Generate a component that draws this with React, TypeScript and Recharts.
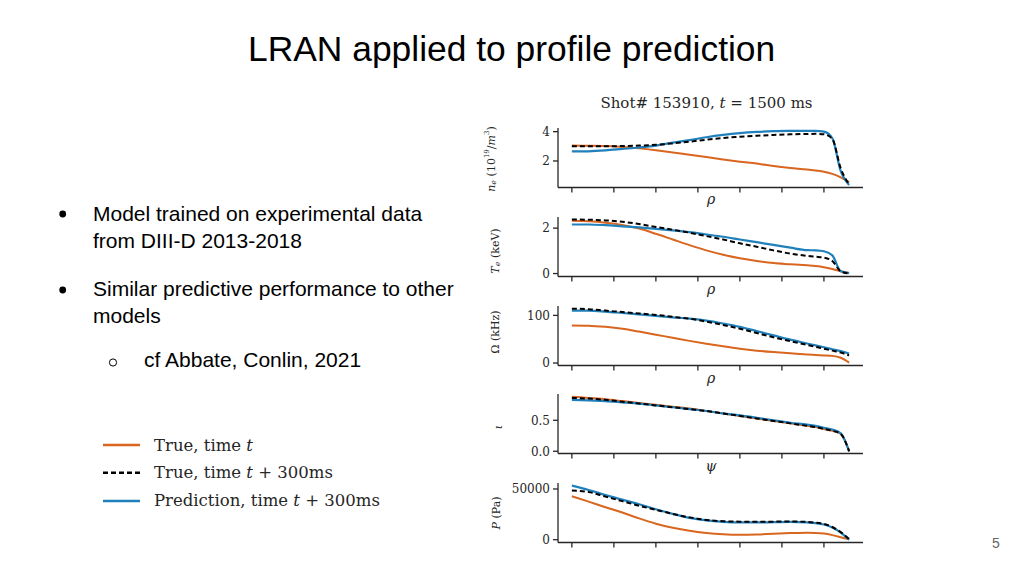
import React from "react";
import { LineChart, Line, XAxis, YAxis } from "recharts";

// shared abscissa (profile grid index)
const X = [0, 2, 4, 6, 8, 10, 12, 14, 16, 18, 20, 22, 24, 26, 28, 29, 30, 31, 32, 33];
const X_TICKS = [0, 5, 10, 15, 20, 25, 30];

// n_e (10^19/m^3)
const neTrue = [3.05, 3.04, 3.02, 2.96, 2.86, 2.73, 2.58, 2.42, 2.27, 2.1, 1.95, 1.82, 1.65, 1.52, 1.42, 1.35, 1.27, 1.12, 0.88, 0.55];
const neNext = [3.0, 3.0, 3.0, 3.02, 3.05, 3.1, 3.2, 3.32, 3.45, 3.57, 3.65, 3.72, 3.78, 3.82, 3.84, 3.85, 3.82, 3.5, 1.5, 0.4];
const nePred = [2.65, 2.66, 2.72, 2.82, 2.92, 3.05, 3.25, 3.42, 3.62, 3.78, 3.9, 3.98, 4.03, 4.05, 4.06, 4.06, 4.0, 3.55, 1.3, 0.36];

// T_e (keV)
const teTrue = [2.32, 2.3, 2.24, 2.14, 1.98, 1.75, 1.5, 1.25, 1.02, 0.83, 0.67, 0.55, 0.46, 0.41, 0.36, 0.33, 0.28, 0.2, 0.1, 0.03];
const teNext = [2.38, 2.37, 2.34, 2.28, 2.18, 2.05, 1.93, 1.8, 1.65, 1.5, 1.33, 1.18, 1.02, 0.88, 0.78, 0.74, 0.7, 0.55, 0.1, 0.0];
const tePred = [2.16, 2.16, 2.13, 2.08, 2.03, 1.97, 1.9, 1.82, 1.72, 1.62, 1.5, 1.38, 1.26, 1.14, 1.03, 1.02, 0.98, 0.8, 0.1, 0.02];

// Omega (kHz)
const omTrue = [79, 78.5, 76, 72, 66, 59.5, 53, 46.5, 40.5, 35, 30, 26, 23, 20.5, 18, 17, 16, 15, 11, 1];
const omNext = [114, 113, 110, 107, 104, 101, 97, 93, 87, 80, 72, 63, 54, 46, 38, 34, 30, 26, 22, 16];
const omPred = [110, 110, 108, 105, 102, 99, 96, 93, 89, 83, 76, 67, 58, 49, 41, 37, 33, 29, 25, 20];

// iota
const ioTrue = [0.88, 0.86, 0.84, 0.81, 0.78, 0.75, 0.72, 0.69, 0.65, 0.61, 0.57, 0.53, 0.49, 0.45, 0.41, 0.39, 0.36, 0.33, 0.28, 0.0];
const ioNext = [0.86, 0.85, 0.83, 0.8, 0.77, 0.74, 0.71, 0.68, 0.65, 0.61, 0.57, 0.53, 0.49, 0.45, 0.41, 0.39, 0.36, 0.33, 0.28, 0.0];
const ioPred = [0.83, 0.82, 0.81, 0.79, 0.77, 0.74, 0.71, 0.68, 0.65, 0.61, 0.58, 0.54, 0.5, 0.46, 0.43, 0.41, 0.38, 0.35, 0.29, 0.0];

// P (Pa)
const pTrue = [42800, 37500, 32000, 26800, 21000, 15800, 11800, 8800, 6700, 5400, 4900, 5200, 5900, 6500, 6900, 6700, 6000, 4500, 2500, 300];
const pNext = [48400, 47000, 42500, 38000, 33500, 29500, 25500, 22000, 19500, 18200, 17800, 17700, 17800, 18000, 17500, 16800, 15500, 12500, 7500, 700];
const pPred = [53300, 49000, 44000, 39500, 35000, 30000, 25500, 21500, 19000, 17600, 17000, 17000, 17300, 17600, 17000, 16400, 15000, 12000, 7000, 0];

const ORANGE = "#d9661f";
const BLUE = "#2080bb";
const INK = "#262626";
const SERIF = "'DejaVu Serif', serif";
const SANS = "'Liberation Sans', Arial, sans-serif";

type PanelProps = {
  top: number;
  a: number[];
  b: number[];
  c: number[];
  domain: [number, number];
  ticks: number[];
  fmt?: (v: number) => string;
};

const PLOT_H = 59.5;

function Panel({ top, a, b, c, domain, ticks, fmt }: PanelProps) {
  const rows = X.map((x, i) => ({ x, a: a[i], b: b[i], c: c[i] }));
  return (
    <div style={{ position: "absolute", left: 483, top: top - 5 }}>
      <LineChart
        width={390}
        height={5 + PLOT_H + 20}
        data={rows}
        margin={{ top: 5, right: 10, bottom: 0, left: 0 }}
      >
        <XAxis
          dataKey="x"
          type="number"
          domain={[-1.65, 34.65]}
          ticks={X_TICKS}
          tickFormatter={() => ""}
          tickSize={5}
          height={20}
          allowDataOverflow
          axisLine={{ stroke: INK, strokeWidth: 1.3 }}
          tickLine={{ stroke: INK, strokeWidth: 1.3 }}
        />
        <YAxis
          type="number"
          domain={domain}
          ticks={ticks}
          allowDataOverflow
          width={75}
          tickSize={5}
          tickMargin={3}
          tickFormatter={fmt}
          tick={{ fontSize: 12, fontFamily: SERIF, fill: INK }}
          axisLine={{ stroke: INK, strokeWidth: 1.3 }}
          tickLine={{ stroke: INK, strokeWidth: 1.3 }}
        />
        <Line type="monotone" dataKey="a" stroke={ORANGE} strokeWidth={2} dot={false} isAnimationActive={false} />
        <Line type="monotone" dataKey="c" stroke={BLUE} strokeWidth={2.2} dot={false} isAnimationActive={false} />
        <Line type="monotone" dataKey="b" stroke="#000" strokeWidth={2} strokeDasharray="5 3" dot={false} isAnimationActive={false} />
      </LineChart>
    </div>
  );
}

function VLabel({ x, y, children }: { x: number; y: number; children: React.ReactNode }) {
  return (
    <text
      transform={`translate(${x},${y}) rotate(-90)`}
      textAnchor="middle"
      dominantBaseline="central"
      fontFamily={SERIF}
      fontSize={11}
      fill={INK}
    >
      {children}
    </text>
  );
}

export default function App() {
  return (
    <div style={{ position: "absolute", left: 0, top: 0, width: 1024, height: 576, background: "#fff", overflow: "hidden" }}>
      <svg width={1024} height={576} style={{ position: "absolute", left: 0, top: 0 }}>
        <text x={248} y={61} fontFamily={SANS} fontSize={35.4} fill="#000">
          LRAN applied to profile prediction
        </text>

        <circle cx={62.7} cy={214} r={3.4} fill="#000" />
        <text x={93} y={220.7} fontFamily={SANS} fontSize={21} fill="#000">Model trained on experimental data</text>
        <text x={93} y={248.3} fontFamily={SANS} fontSize={21} fill="#000">from DIII-D 2013-2018</text>
        <circle cx={62.7} cy={290} r={3.4} fill="#000" />
        <text x={93} y={296} fontFamily={SANS} fontSize={21} fill="#000">Similar predictive performance to other</text>
        <text x={93} y={323.3} fontFamily={SANS} fontSize={21} fill="#000">models</text>
        <circle cx={113} cy={362.5} r={3.6} fill="none" stroke="#000" strokeWidth={1} />
        <text x={144} y={366.7} fontFamily={SANS} fontSize={21} fill="#000">cf Abbate, Conlin, 2021</text>

        <line x1={103} x2={140} y1={445} y2={445} stroke={ORANGE} strokeWidth={2.5} />
        <line x1={103} x2={140} y1={472.7} y2={472.7} stroke="#000" strokeWidth={2.5} strokeDasharray="5 3" />
        <line x1={103} x2={140} y1={501} y2={501} stroke={BLUE} strokeWidth={2.5} />
        <text x={154} y={451} fontFamily={SERIF} fontSize={16.5} fill={INK}>
          True, time <tspan fontStyle="italic">t</tspan>
        </text>
        <text x={154} y={478.3} fontFamily={SERIF} fontSize={16.5} fill={INK}>
          True, time <tspan fontStyle="italic">t</tspan> + 300ms
        </text>
        <text x={154} y={506} fontFamily={SERIF} fontSize={16.5} fill={INK}>
          Prediction, time <tspan fontStyle="italic">t</tspan> + 300ms
        </text>

        <text x={706.5} y={107.7} textAnchor="middle" fontFamily={SERIF} fontSize={15} fill={INK}>
          Shot# 153910, <tspan fontStyle="italic">t</tspan> = 1500 ms
        </text>

        <VLabel x={491} y={159}>
          <tspan fontStyle="italic">n</tspan>
          <tspan fontSize={8} fontStyle="italic" dy={2}>e</tspan>
          <tspan dy={-2}> (10</tspan>
          <tspan fontSize={7} dy={-4}>19</tspan>
          <tspan dy={4}>/</tspan>
          <tspan fontStyle="italic">m</tspan>
          <tspan fontSize={7} dy={-4}>3</tspan>
          <tspan dy={4}>)</tspan>
        </VLabel>
        <VLabel x={495} y={251}>
          <tspan fontStyle="italic">T</tspan>
          <tspan fontSize={8} fontStyle="italic" dy={2}>e</tspan>
          <tspan dy={-2}> (keV)</tspan>
        </VLabel>
        <VLabel x={495} y={332}>Ω (kHz)</VLabel>
        <VLabel x={498} y={427}>
          <tspan fontStyle="italic">ι</tspan>
        </VLabel>
        <VLabel x={496} y={513}>
          <tspan fontStyle="italic">P</tspan> (Pa)
        </VLabel>

        <text x={711} y={204} textAnchor="middle" fontFamily={SERIF} fontStyle="italic" fontSize={14} fill={INK}>ρ</text>
        <text x={711} y={294} textAnchor="middle" fontFamily={SERIF} fontStyle="italic" fontSize={14} fill={INK}>ρ</text>
        <text x={711} y={383} textAnchor="middle" fontFamily={SERIF} fontStyle="italic" fontSize={14} fill={INK}>ρ</text>
        <text x={711} y={471} textAnchor="middle" fontFamily={SERIF} fontStyle="italic" fontSize={14} fill={INK}>ψ</text>

        <text x={992} y={548} fontFamily={SANS} fontSize={14} fill="#666">5</text>
      </svg>

      <Panel top={128} a={neTrue} b={neNext} c={nePred} domain={[0.19, 4.25]} ticks={[2, 4]} />
      <Panel top={217.2} a={teTrue} b={teNext} c={tePred} domain={[-0.13, 2.49]} ticks={[0, 2]} />
      <Panel top={306.3} a={omTrue} b={omNext} c={omPred} domain={[-5.2, 119.7]} ticks={[0, 100]} />
      <Panel top={394.4} a={ioTrue} b={ioNext} c={ioPred} domain={[-0.036, 0.924]} ticks={[0, 0.5]} fmt={(v: number) => v.toFixed(1)} />
      <Panel top={483.3} a={pTrue} b={pNext} c={pPred} domain={[-2760, 55900]} ticks={[0, 50000]} />
    </div>
  );
}
